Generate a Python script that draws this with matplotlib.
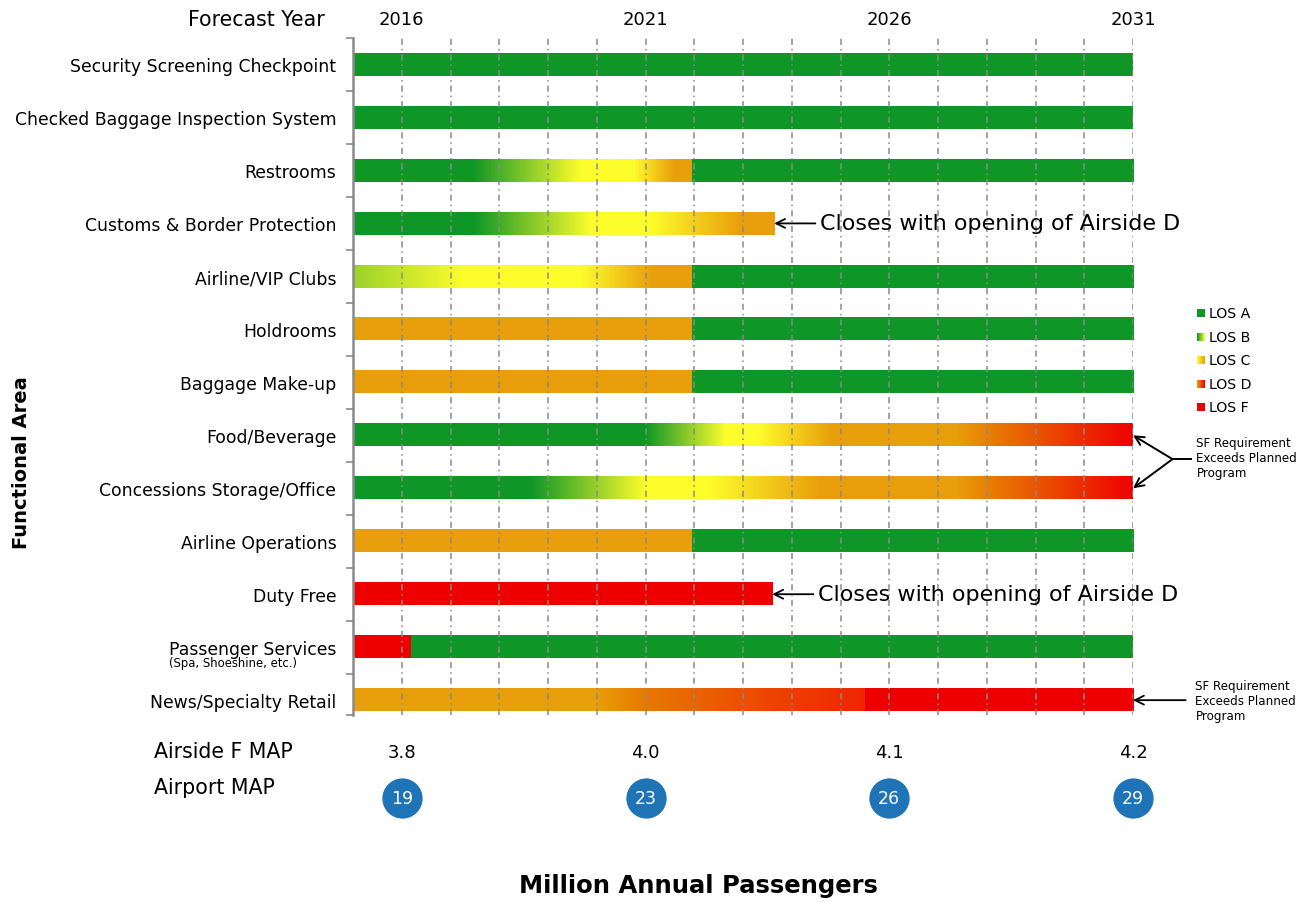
import numpy as np
import matplotlib
matplotlib.use("Agg")
import matplotlib.pyplot as plt
from matplotlib.colors import to_rgb

W, H = 1310, 903

# ---- data -------------------------------------------------------------
areas = [
    "Security Screening Checkpoint",
    "Checked Baggage Inspection System",
    "Restrooms",
    "Customs & Border Protection",
    "Airline/VIP Clubs",
    "Holdrooms",
    "Baggage Make-up",
    "Food/Beverage",
    "Concessions Storage/Office",
    "Airline Operations",
    "Duty Free",
    "Passenger Services",
    "News/Specialty Retail",
]

palette = {
    "A": "#0e9627",   # LOS A green
    "L": "#9ad22a",   # lime (LOS B blend)
    "Y": "#fdfd2c",   # yellow (LOS B/C)
    "O": "#e99e0b",   # orange (LOS C/D)
    "DO": "#e87800",  # deep orange (LOS D)
    "RO": "#ee3c00",  # red-orange (LOS D/F)
    "RO2": "#ef2600",
    "R": "#ef0000",   # LOS F red
}

# level-of-service colour stops per area: each inner list is one continuous
# segment of (forecast year, colour key)
level_stops = [
    [[(2015, "A"), (2031, "A")]],
    [[(2015, "A"), (2031, "A")]],
    [[(2015, "A"), (2017.45, "A"), (2019.67, "Y"), (2020.76, "Y"), (2021.58, "O"), (2021.95, "O")],
     [(2021.95, "A"), (2031, "A")]],
    [[(2015, "A"), (2017.47, "A"), (2019.88, "Y"), (2021.1, "Y"), (2022.96, "O"), (2023.64, "O")]],
    [[(2015, "L"), (2017.26, "Y"), (2019.67, "Y"), (2021.17, "O"), (2021.95, "O")],
     [(2021.95, "A"), (2031, "A")]],
    [[(2015, "O"), (2021.95, "O")], [(2021.95, "A"), (2031, "A")]],
    [[(2015, "O"), (2021.95, "O")], [(2021.95, "A"), (2031, "A")]],
    [[(2015, "A"), (2021.0, "A"), (2022.65, "Y"), (2023.3, "Y"), (2024.85, "O"),
      (2027.4, "O"), (2028.2, "DO"), (2031, "R")]],
    [[(2015, "A"), (2018.65, "A"), (2021.0, "Y"), (2022.3, "Y"), (2024.6, "O"),
      (2027.4, "O"), (2028.2, "DO"), (2031, "R")]],
    [[(2015, "O"), (2021.95, "O")], [(2021.95, "A"), (2031, "A")]],
    [[(2015, "R"), (2023.6, "R")]],
    [[(2015, "R"), (2016.19, "R")], [(2016.19, "A"), (2031, "A")]],
    [[(2015, "O"), (2020.0, "O"), (2021.0, "DO"), (2024.05, "RO"), (2025.5, "RO2")],
     [(2025.5, "R"), (2031, "R")]],
]

label_years = [2016, 2021, 2026, 2031]
airside_f_map = [3.8, 4.0, 4.1, 4.2]
airport_map = [19, 23, 26, 29]

closing_areas = ["Customs & Border Protection", "Duty Free"]
closing_year = [2023.64, 2023.6]
over_program_areas = ["Food/Beverage", "Concessions Storage/Office"]
over_program_single = "News/Specialty Retail"

legend_labels = ["LOS A", "LOS B", "LOS C", "LOS D", "LOS F"]
legend_swatches = [("A", "A"), ("A", "Y"), ("Y", "O"), ("O", "R"), ("R", "R")]

# ---- figure -----------------------------------------------------------
plt.rcParams["font.family"] = ["DejaVu Sans"]
fig = plt.figure(figsize=(W / 100, H / 100), dpi=100)


def fx(px):
    return px / W


def fy(py):
    return 1 - py / H


ax = fig.add_axes([fx(353), fy(716), fx(1133) - fx(353), fy(39) - fy(716)])
ax.set_xlim(2015, 2031)
y_bottom = 12.28
ax.set_ylim(y_bottom, -0.5)

bar_h = 0.42


def draw_segment(stops, y):
    xs = np.array([s[0] for s in stops], dtype=float)
    cols = np.array([to_rgb(palette[s[1]]) for s in stops])
    x0, x1 = xs[0], xs[-1]
    n = int((x1 - x0) * 60) + 2
    grid = np.linspace(x0, x1, n)
    img = np.stack([np.interp(grid, xs, cols[:, k]) for k in range(3)], axis=-1)[None]
    ax.imshow(img, extent=[x0, x1, y + bar_h / 2, y - bar_h / 2], aspect="auto",
              interpolation="nearest", zorder=2)


for i, segs in enumerate(level_stops):
    for seg in segs:
        draw_segment(seg, i)

ax.set_xlim(2015, 2031)
ax.set_ylim(y_bottom, -0.5)

# yearly dash-dot guides drawn over the bars
for yr in range(2016, 2032):
    ax.axvline(yr, color="#8a8a8a", lw=1.1, dashes=(4, 2.6, 1, 2.6), zorder=3)

for s in ["top", "right", "bottom"]:
    ax.spines[s].set_visible(False)
ax.spines["left"].set_color("#8a8a8a")
ax.spines["left"].set_linewidth(1.8)
ax.set_xticks([])

ax.set_yticks(range(len(areas)))
ax.set_yticklabels(areas, fontsize=12.45)
ax.tick_params(axis="y", which="major", length=0, pad=12)
ax.set_yticks(list(np.arange(-0.5, len(areas) - 1, 1.0)) + [y_bottom], minor=True)
ax.tick_params(axis="y", which="minor", length=5, width=1.2, color="#8a8a8a")

# forecast years across the top
for yr in label_years:
    ax.text(yr, -0.86, str(yr), ha="center", va="center", fontsize=13)
fig.text(fx(188), fy(20), "Forecast Year", ha="left", va="center", fontsize=14.8)

# passenger totals under the chart
for yr, v in zip(label_years, airside_f_map):
    ax.text(yr, 12.98, f"{v:.1f}", ha="center", va="center", fontsize=13)
ax.plot(label_years, [13.85] * len(label_years), "o", ms=29, color="#1f74b8",
        mec="none", clip_on=False, zorder=4)
for yr, v in zip(label_years, airport_map):
    ax.text(yr, 13.85, str(v), ha="center", va="center", fontsize=12.5,
            color="white", zorder=5)
fig.text(fx(154), fy(752), "Airside F MAP", ha="left", va="center", fontsize=14.8)
fig.text(fx(154), fy(788), "Airport MAP", ha="left", va="center", fontsize=14.8)

# closing annotations
for name, yr in zip(closing_areas, closing_year):
    row = areas.index(name)
    ax.annotate("Closes with opening of Airside D", xy=(yr, row),
                xytext=(yr + 0.93, row), ha="left", va="center", fontsize=16,
                arrowprops=dict(arrowstyle="->", color="black", lw=1.3,
                                shrinkA=1, shrinkB=0, mutation_scale=16),
                annotation_clip=False)

# space requirement annotations
r1, r2 = (areas.index(a) for a in over_program_areas)
jy = (r1 + r2) / 2 - 0.05
ax.plot([2032.18, 2031.81], [jy, jy], color="black", lw=1.4, clip_on=False)
for r in (r1, r2):
    ax.annotate("", xy=(2031.0, r), xytext=(2031.81, jy),
                arrowprops=dict(arrowstyle="->", color="black", lw=1.4,
                                shrinkA=0, shrinkB=0, mutation_scale=16),
                annotation_clip=False)
ax.text(2032.3, jy - 0.03, "SF Requirement\nExceeds Planned\nProgram", ha="left",
        va="center", fontsize=8.6)

r3 = areas.index(over_program_single)
ax.annotate("", xy=(2031.0, r3), xytext=(2032.08, r3),
            arrowprops=dict(arrowstyle="->", color="black", lw=1.3,
                            shrinkA=0, shrinkB=0, mutation_scale=16),
            annotation_clip=False)
ax.text(2032.28, r3, "SF Requirement\nExceeds Planned\nProgram", ha="left",
        va="center", fontsize=8.6)

# legend
legend_y = [314, 338, 361, 385, 408]
for lab, (c0, c1), ypx in zip(legend_labels, legend_swatches, legend_y):
    sax = fig.add_axes([fx(1197), fy(ypx + 4), 8 / W, 8 / H])
    g = np.linspace(0, 1, 16)
    a, b = np.array(to_rgb(palette[c0])), np.array(to_rgb(palette[c1]))
    sw = (a[None, :] * (1 - g[:, None]) + b[None, :] * g[:, None])[None]
    sax.imshow(sw, aspect="auto", interpolation="bilinear")
    sax.set_axis_off()
    fig.text(fx(1209), fy(ypx), lab, ha="left", va="center", fontsize=10.2)

# axis titles
fig.text(fx(22), fy(463), "Functional Area", rotation=90, ha="center", va="center",
         fontsize=14, fontweight="bold")
fig.text(fx(698), fy(886), "Million Annual Passengers", ha="center", va="center",
         fontsize=17.5, fontweight="bold")

# sub-caption under the passenger services label, aligned to its left edge
fig.canvas.draw()
renderer = fig.canvas.get_renderer()
ps_row = areas.index("Passenger Services")
ps_label = ax.get_yticklabels()[ps_row]
bb = ps_label.get_window_extent(renderer)
ps_label.set_y(ps_row - 0.02)
fig.text(bb.x0 / W, fy(664), "(Spa, Shoeshine, etc.)", ha="left", va="center",
         fontsize=8.4)

fig.savefig("out.png", dpi=100)
